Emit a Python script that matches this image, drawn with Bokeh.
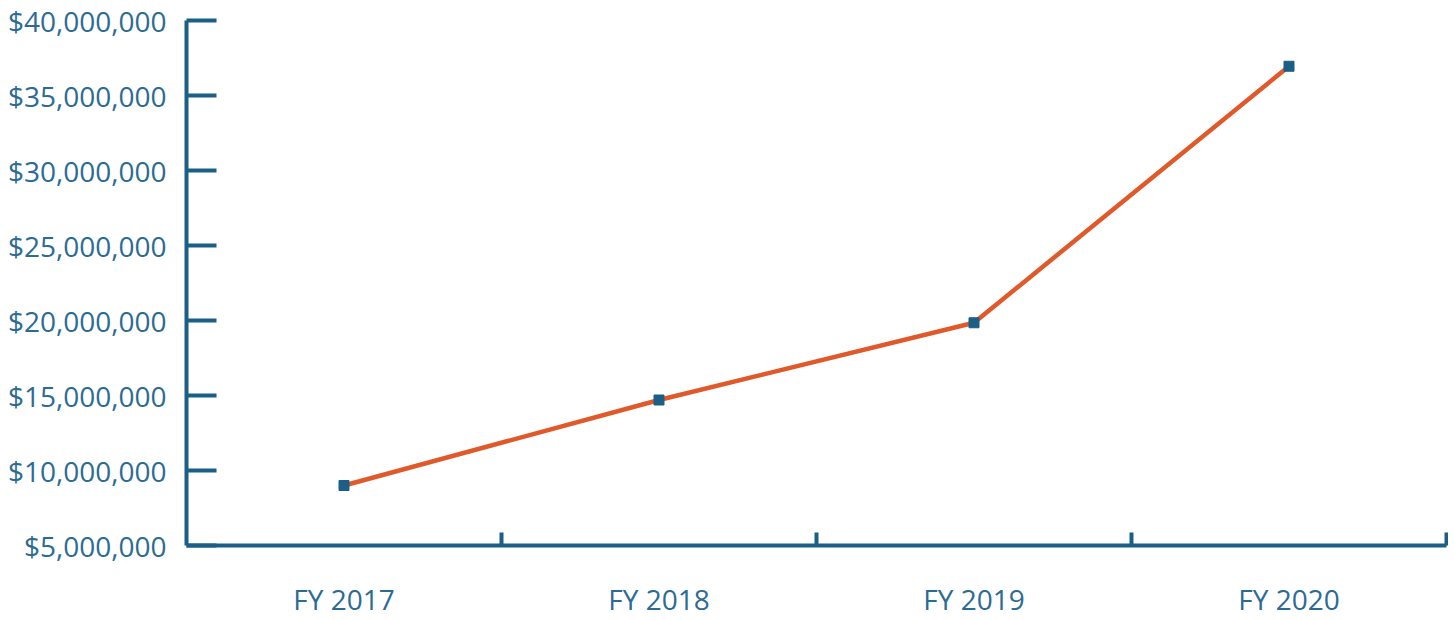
from bokeh.plotting import figure
from bokeh.models import Range1d, FixedTicker, NumeralTickFormatter, ColumnDataSource
from bokeh.embed import file_html
from bokeh.resources import INLINE

categories = ["FY 2017", "FY 2018", "FY 2019", "FY 2020"]
values = [9_000_000, 14_700_000, 19_850_000, 36_950_000]
y_ticks = [5_000_000, 10_000_000, 15_000_000, 20_000_000, 25_000_000,
           30_000_000, 35_000_000, 40_000_000]

AXIS = "#1b5e86"
TEXT = "#2c6b93"
LINE = "#e0592a"
FONT = "Open Sans"

xs = [i + 0.5 for i in range(len(categories))]
src = ColumnDataSource(dict(x=xs, y=values))

p = figure(width=1448, height=620, output_backend="svg", toolbar_location=None,
           x_range=Range1d(0, len(categories)), y_range=Range1d(y_ticks[0], y_ticks[-1]),
           min_border_left=186, min_border_right=2, min_border_top=20, min_border_bottom=75)
p.outline_line_color = None
p.xgrid.visible = False
p.ygrid.visible = False
p.background_fill_color = "white"
p.border_fill_color = "white"

p.line("x", "y", source=src, line_color=LINE, line_width=4.5)
p.scatter("x", "y", source=src, marker="square", size=10, fill_color=AXIS, line_color=AXIS)

# x axis
xa = p.xaxis[0]
xa.ticker = FixedTicker(ticks=xs, minor_ticks=[float(i + 1) for i in range(len(categories))])
xa.major_label_overrides = {x: c for x, c in zip(xs, categories)}
xa.major_tick_line_color = None
xa.minor_tick_in = 13
xa.minor_tick_out = 0
xa.minor_tick_line_color = AXIS
xa.minor_tick_line_width = 4
xa.axis_line_color = AXIS
xa.axis_line_width = 4
xa.major_label_text_font = FONT
xa.major_label_text_font_size = "28px"
xa.major_label_text_color = TEXT
xa.major_label_standoff = 28

# y axis
ya = p.yaxis[0]
ya.ticker = FixedTicker(ticks=y_ticks, minor_ticks=[])
ya.formatter = NumeralTickFormatter(format="$0,0")
ya.axis_line_color = AXIS
ya.axis_line_width = 4
ya.major_tick_in = 30
ya.major_tick_out = 0
ya.major_tick_line_color = AXIS
ya.major_tick_line_width = 4
ya.major_label_text_font = FONT
ya.major_label_text_font_size = "28px"
ya.major_label_text_color = TEXT
ya.major_label_standoff = 20

open("out.html", "w").write(file_html(p, INLINE))
